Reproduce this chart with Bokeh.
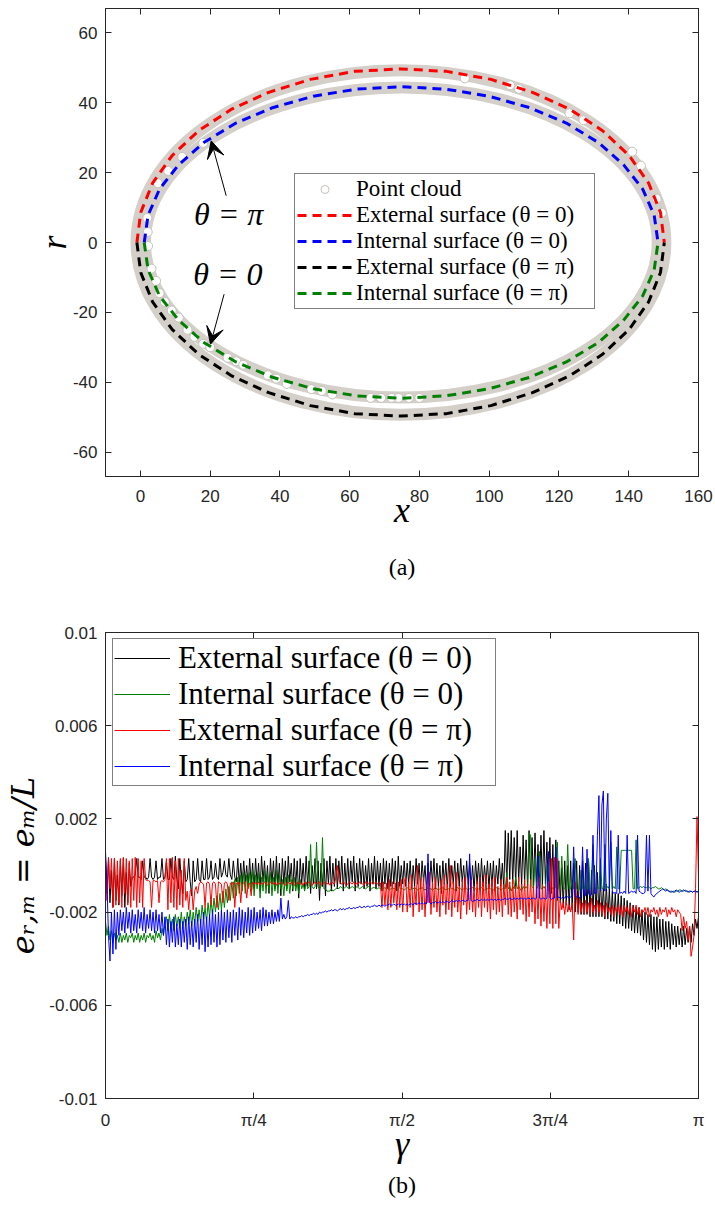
import numpy as np
from bokeh.plotting import figure
from bokeh.layouts import column
from bokeh.models import (Range1d, LinearAxis, FixedTicker, Legend, LegendItem,
                          Label, Arrow, VeeHead)
from bokeh.embed import file_html
from bokeh.resources import INLINE

# ================= Panel (a) data =================
# fitted surfaces (upper half: theta = 0, lower half: theta = pi)
ext0_x = [-1.0, 0.1, 3.5, 9.1, 16.7, 26.0, 36.8, 48.7, 61.4, 74.6, 87.8, 100.5,
          112.4, 123.2, 132.5, 140.1, 145.7, 149.1, 150.2]
ext0_y = [0.0, 8.6, 17.0, 24.9, 32.0, 38.1, 43.0, 46.7, 49.0, 49.7, 49.0, 46.7,
          43.0, 38.1, 32.0, 24.9, 17.0, 8.6, 0.0]
int0_x = [1.1, 2.2, 5.5, 11.0, 18.3, 27.4, 37.9, 49.6, 61.9, 74.8, 87.6, 99.9,
          111.6, 122.1, 131.2, 138.5, 144.0, 147.3, 148.4]
int0_y = [0.0, 7.8, 15.3, 22.3, 28.7, 34.2, 38.6, 41.9, 43.9, 44.6, 43.9, 41.9,
          38.6, 34.2, 28.7, 22.3, 15.3, 7.8, 0.0]
extpi_x = [-1.0, 0.1, 3.5, 9.1, 16.7, 26.0, 36.8, 48.7, 61.4, 74.6, 87.8, 100.5,
           112.4, 123.2, 132.5, 140.1, 145.7, 149.1, 150.2]
extpi_y = [0.0, -8.6, -17.0, -24.9, -32.0, -38.1, -43.0, -46.7, -49.0, -49.7, -49.0,
           -46.7, -43.0, -38.1, -32.0, -24.9, -17.0, -8.6, 0.0]
intpi_x = [1.1, 2.2, 5.5, 11.0, 18.3, 27.4, 37.9, 49.6, 61.9, 74.8, 87.6, 99.9,
           111.6, 122.1, 131.2, 138.5, 144.0, 147.3, 148.4]
intpi_y = [0.0, -7.8, -15.3, -22.3, -28.7, -34.2, -38.6, -41.9, -43.9, -44.6, -43.9,
           -41.9, -38.6, -34.2, -28.7, -22.3, -15.3, -7.8, 0.0]

# point cloud: dense bands (centre ellipses) + individually visible points
cloud_cx = [74.7, 74.8]
cloud_cy = [0.0, 0.0]
cloud_w = [151.6, 147.0]
cloud_h = [98.6, 88.8]
cloud_x = [2.0, 2.1, 2.2, 3.2, 4.5, 5.5, 7.0, 9.0, 11.0, 13.5, 15.5, 18.0, 20.0, 25.0,
           27.5, 29.5, 36.5, 39.0, 42.0, 49.0, 52.0, 55.0, 66.0, 69.0, 72.0, 74.0, 77.0,
           80.0, 93.0, 106.0, 108.5, 123.0, 127.0, 141.0, 143.5, 148.0, 149.5, 5.0, 8.0,
           12.0, 18.0]
cloud_y = [7.0, 3.0, -1.0, -7.5, -11.0, -14.5, -17.0, -19.5, -21.5, -25.0, -27.0, -29.0,
           -30.0, -33.0, -34.0, -35.0, -38.0, -39.0, -40.5, -42.0, -42.5, -43.5, -44.5,
           -44.5, -44.5, -44.5, -44.5, -44.5, 47.0, 45.0, 44.0, 37.0, 35.0, 26.0, 22.0,
           12.5, 8.5, 17.0, 20.5, 24.5, 28.5]

x_ticks_a = [0, 20, 40, 60, 80, 100, 120, 140, 160]
x_tick_labels_a = ["0", "20", "40", "60", "80", "100", "120", "140", "160"]
y_ticks_a = [-60, -40, -20, 0, 20, 40, 60]
y_tick_labels_a = ["-60", "-40", "-20", "0", "20", "40", "60"]

# ================= Panel (b) data (values in units of 1e-3, gamma from 0 to pi) =====
gamma_ticks = [0, np.pi / 4, np.pi / 2, 3 * np.pi / 4, np.pi]
gamma_tick_labels = ["0", "π/4", "π/2", "3π/4", "π"]
e_ticks = [-0.01, -0.006, -0.002, 0.002, 0.006, 0.01]
e_tick_labels = ["-0.01", "-0.006", "-0.002", "0.002", "0.006", "0.01"]

ext0_err_e3 = [
    0.2, -1.2, 0.3, -1.6, -0.2, -1.8, 0.3, -1.5, -0.4, -1.7, 0.2, -1.3, 0.3, -1.8, -0.3, -1.6, 0.1, -0.9,
    -0.5, -0.5, -0.4, 0.3, -0.5, -0.5, -0.6, 0.2, -0.5, -0.5,
    -0.6, -0.5, 0.3, -0.5, -0.6, -0.5, 0.2, -0.6, -0.5, -0.5,
    0.3, -0.6, -0.5, 0.2, -0.6, -0.6, 0.3, -0.5, -0.6, 0.4,
    -0.6, -1.0, 0.3, -0.6, -1.2, 0.2, -0.7, -0.6, 0.3, -0.7,
    -1.3, 0.2, -0.7, -0.6, 0.3, -0.6, -0.7, 0.2, -0.6, -0.6,
    0.3, -0.6, -0.5, 0.2, -0.6, -0.5, 0.1, -0.5, -0.6, 0.3,
    -0.5, -0.3, 0.2, -0.4, -0.5, 0.3, -0.4, -0.6, 0.2, -0.5,
    -0.7, 0.3, -0.8,
    0.1, -0.8, 0.2, -0.7, 0.0, -0.9, 0.3, -0.8, 0.1, -1.0,
    0.3, -0.8, 0.1, -1.1, 0.4, -0.7, 0.2, -0.9, 0.0, -1.2,
    0.3, -0.8, 0.2, -1.0, 0.4, -0.9, 0.1, -1.3, 0.3, -0.8,
    0.2, -1.0, 0.4, -0.7, 0.1, -1.1, 0.3, -0.9, 0.2, -1.4,
    0.3, -0.8, 0.1, -1.0, 0.4, -0.9, 0.2, -1.2, 0.0, -0.8,
    0.3, -1.0, 0.2, -1.5, 0.1, -0.9, 0.3, -1.3, 0.2, -0.8,
    0.4, -1.1, 0.1, -0.9, 0.3, -1.0, 0.2, -0.8, 0.4, -1.1,
    0.1, -0.9, 0.3, -1.0, 0.2, -0.7, 0.4, -1.1, 0.1, -0.9,
    0.3, -0.8, 0.2, -1.0, 0.0, -0.9, 0.3, -1.1, 0.1, -0.8,
    0.4, -1.0, 0.2, -0.9, 0.1, -1.1, 0.3, -0.8, 0.2, -1.0,
    0.1, -0.9, 0.3, -0.8, 0.2, -1.1, 0.4, -0.9, 0.0, -0.8, 0.2,
    -0.9, 0.1, -0.8, 0.2, -1.0, 0.0, -0.9, 0.3, -0.8, 0.1,
    -1.0, 0.2, -0.7, 0.0, -1.1, 0.1, -0.9, 0.2, -0.8, 0.3,
    -1.0, 0.1, -0.9, 0.0, -1.2, 0.2, -0.8, 0.1, -1.0, 0.3,
    -0.9, 0.0, -0.8, 0.2, -1.1, 0.1, -0.9, 0.3, -0.7, 0.0,
    -1.0, 0.2, -0.8, 0.1, -0.9, 0.0, -1.1, 0.2, -0.8, 0.1,
    -1.0, 0.3, -0.9, 0.0, -0.8, 0.2, -1.0, 0.1, -0.9, 0.2,
    -1.1, 0.0, -0.8, 0.3, -0.9, 0.1, -1.0,
    1.5, -0.9, 1.4, -0.6, 1.5, -0.8, 1.2, -0.9, 1.5, -0.7,
    0.8, -0.9, 1.3, -0.8, 1.1, -1.0, 1.5, -0.7, 1.2, -0.9,
    1.4, -0.8, 0.9, -1.0, 1.3, -0.9, 1.5, -0.8, 1.0, -1.1,
    1.2, -1.2, 0.9, -1.4, 1.1,
    -1.5, 0.2, -1.6, -0.1, -1.8, 0.2, -1.7, 0.0, -1.9, 0.2,
    -1.9, 0.1, -2.0, 0.2, -2.0, 0.0, -2.1, 0.2, -2.1, 0.1,
    -2.1, 0.2, -2.2, -0.2, -2.2, 0.0, -2.2, -0.3, -2.2, -0.5,
    -2.2, -0.9, -2.3, -0.8, -2.3, -1.0, -2.4, -1.1, -2.4, -1.2,
    -2.5, -1.2, -2.5, -1.3, -2.6, -1.4, -2.7, -1.5, -2.7, -1.6,
    -2.8, -1.7, -2.9, -1.8, -2.9, -1.8, -3.0, -1.9, -3.2, -2.0,
    -3.3, -2.1, -3.4, -2.1, -3.6, -2.2, -3.7, -2.2, -3.6, -2.3,
    -3.5, -2.3, -3.6, -2.4, -3.5, -2.4, -3.6, -2.5, -3.4, -2.6,
    -3.5, -2.6, -3.4, -2.7, -3.5, -2.6, -3.4, -2.7, -3.3, -2.6,
    -3.3, -2.5, -3.0, -2.3, -2.7, -2.2,
]
int0_err_e3 = [
    -2.4, -3.0, -2.6, -3.2, -2.8, -3.3, -2.9, -3.2, -3.0, -3.3,
    -2.9, -3.3, -3.0, -3.2, -2.9, -3.3, -3.0, -3.1, -2.9, -3.3,
    -3.0, -3.2, -2.9, -3.3, -3.0, -3.2, -2.9, -3.3, -3.0, -3.1,
    -2.9, -3.2, -3.0, -3.3, -2.8, -3.1, -2.9, -3.2, -2.7, -3.0,
    -2.5,
    -2.2, -2.8, -2.1, -2.7, -2.3, -2.8, -2.1, -2.6, -2.2, -2.7,
    -2.0, -2.7, -2.2, -2.6, -2.0, -2.5, -1.9, -2.6, -2.0, -2.5,
    -1.8, -2.4, -1.9, -2.5, -1.7, -2.3, -1.8, -2.4, -1.6, -2.2,
    -1.5, -2.1, -1.4, -2.0, -1.3, -1.9, -1.2,
    -1.9, -1.1, -1.8, -1.0, -1.6, -0.9, -1.5, -0.7, -1.4, -0.6,
    -1.3, -0.5, -1.2, -0.4, -1.1, -0.3, -1.2, -0.4, -1.0, -0.3,
    -1.1, -0.2, -1.3, -0.4, -1.0, -0.3, -1.4, -0.5, -1.1, -0.2,
    -1.2, -0.4, -1.0, -0.3, -1.3, -0.5, -1.1, -0.2, -1.2, -0.4,
    -1.0, -0.6, -1.3, -0.5, -1.1, -0.4, -1.2, -0.6, -1.0, -0.5,
    -1.1, -0.7, -1.2, -0.6, -1.0, -0.8, -1.1, -0.7, -1.0, -0.9,
    0.9, -0.9, -1.0, -0.9, 1.0, -0.9, -1.0, -0.9, 1.2, -1.0, -1.0, -1.1, -1.1,
    -1.1, -1.0, -1.1, -1.05, -1.0, -0.95, -1.0, -0.9, -0.95, -1.0,
    -0.95, -0.9, -0.95, -1.0, -0.95, -0.9, -0.95, -1.0, -0.9, -0.95,
    -1.0, -0.95, -0.9, -0.95, -1.0, -0.95, -0.9, -0.95, -1.0, -0.95,
    -0.95, -1.0, -1.0, -0.95, -1.0, -1.05, -1.0, -0.95, -1.0, -1.0,
    -1.05, -1.0, -0.95, -1.0, -1.0, -1.05, -1.0, -0.95, -1.0, -1.0,
    -1.05, -1.0, -0.95, -1.0, -1.05, -1.0, -1.0, -0.95, -1.0, -1.05,
    -1.0, -1.0, -0.95, -1.0, -1.05, -1.0, -0.95, -1.0, -1.0, -1.05,
    -1.0, -0.95, -1.0, -1.05, -1.0, -1.0, -0.95, -1.0, -1.05, -1.0,
    -1.0, -0.95, -1.0, -1.0, -1.05, -1.0, -0.95, -1.0, -1.0, -1.05,
    -1.0, -0.95, -1.0, -1.05, -1.0, -1.0, -0.95, -1.0, -1.0, -1.05,
    -1.0, -1.0, -0.95, -1.0, -1.05, -1.0, -1.0, -0.95, -1.0, -1.0,
    -1.05, -1.0, -0.95, -1.0, -1.0, -1.05, -1.0, -1.0,
    -1.0, -0.3, -1.0, -0.9, -1.1, -0.9, -1.0, -0.5, -1.0, -0.9,
    -1.0, -1.1, -0.9, -1.0, -0.9, -1.0, 1.4, 1.3, -0.9, -1.0,
    0.3, -1.0, -0.9, 0.6, -1.0, -1.0, -0.9, -1.0, 0.0, -1.0,
    -1.0, -0.9, -1.0, -1.0, -0.9,
    1.0, -1.0, -1.0, 0.4, -0.9, -1.0, -1.0, 0.9, -1.0, -1.0,
    -0.6, -1.0, 0.3, -1.0, -1.1, -1.0, -0.2, -1.0, -1.0, -0.9,
    -1.0, 0.3, -1.0, -1.0, 0.9, -1.0, -1.0, -0.9, -1.0, 0.3,
    -1.0, -1.0, 0.9, -1.0, -0.9, -1.0, 1.0, -1.0, -0.9, -1.0,
    0.8, -1.0, -1.0, 0.65, 0.65, 0.65, 0.65, 0.65, 0.65, 0.65,
    0.65, -1.0, -1.0, 1.1, -1.0, -0.95, -0.9,
    -0.95, -0.9, -0.95, -0.95, -0.9, -0.95, -1.0, -0.95, -0.95, -0.9,
    -0.95, -1.0, -1.0, -0.95, -1.0, -1.05, -1.0, -1.05, -1.1, -1.1,
    -1.15, -1.1, -1.15, -1.1, -1.1, -1.05, -1.05, -1.1, -1.1, -1.05,
    -1.1, -1.1, -1.15, -1.1, -1.15, -1.1, -1.15, -1.1, -1.15,
]
extpi_err_e3 = [
    0.3, -1.5, 0.35, -1.0, 0.3, -1.8, 0.3, -1.7, 0.2, -1.6,
    0.3, -1.8, 0.35, -1.2, 0.3, -1.7, 0.2, -1.8, 0.3, -1.5,
    0.35, -1.8, 0.3, -1.6, 0.2, -1.8, 0.3, -0.6,
    -0.65, -0.65, -0.7, -1.8, -0.65, -0.65, -0.7, -0.65, -1.6, -0.7, -0.65, -0.7, -0.6,
    0.3, -1.9, 0.3, -1.6, 0.35, -1.8, 0.2, -1.9, 0.3, -1.7, -0.2, -1.8, 0.3, -1.5,
    -1.1, -1.9, -1.1, -1.0, -1.9, -1.1, -0.9, -1.2, -0.8, -0.7,
    -0.75, -0.8, -1.8, -0.75, -0.7, -0.8, -1.7, -0.75, -0.7, -0.8,
    -1.8, -0.7, -0.75, -0.8, -1.6, -0.75, -0.7, -0.8, -1.5, -0.75,
    -0.8, -0.7, -1.8, -0.75, -0.8, -0.7, -1.6, -0.8, -0.75, -0.7,
    -1.4, -0.8, -0.75, -1.3, -0.7, -0.8,
    -0.75, -0.8, -0.7, -0.85, -0.75, -0.8, -0.7, -0.75, -0.85, -0.8,
    -0.7, -0.75, -0.8, -0.7, -0.85, -0.75, -0.8, -0.7, -0.75, -0.8,
    -0.85, -0.75, -0.7, -0.8, -0.75, -0.7, -0.85, -0.8, -0.75, -0.7,
    -0.8, -0.75, -0.85, -0.7, -0.8, -0.75, -0.7, -0.8, -0.85, -0.75,
    -0.7, -0.8, -0.75, -0.7, -0.85, -0.8, -0.75, -0.7, -0.8, -0.75,
    -0.85, -0.7, -0.75, -0.8, -0.5, 0.0, -0.6, -0.75, -0.8, -0.7,
    -0.75, -0.85, -0.8, -0.7, -0.75, -0.8, -0.7, -0.85, -0.75, -0.8,
    -0.7, -0.75, -0.8, -0.85, -0.7, -0.75, -0.8, -0.7, -0.75, -0.8,
    -0.75, -0.7, -0.8, -0.75,
    -0.75, -1.8, -0.7, -1.7, -0.75, -1.9, -0.6, -1.8, -0.7, -1.6, -0.75, -1.9, -0.7, -1.8, -0.6, -2.0, -0.7,
    -0.5, -2.0, -0.7, -1.8, -0.4, -2.2, -0.9, -1.7, 0.0, -2.0,
    -0.6, -1.9, -0.5, -2.2, -0.8, -1.6, -0.3, -2.1, -0.7, -1.8,
    -0.5, -2.0, -0.9, -2.2, -0.6, -1.7, -0.4, -2.1, -0.8, -1.9,
    0.0, -2.2, -0.7, -1.8, -0.3, -2.0, -0.9, -2.3, -0.6, -1.7,
    -0.5, -2.1, -0.8, -1.9, -0.6, -2.0, -0.9, -2.2, -0.7, -1.8,
    -0.5, -2.2, -0.7, -1.8, -0.4, -2.0, -0.8, -2.3, -0.6, -1.9,
    -0.5, -2.1, -0.9, -2.0, -0.6, -2.2, -0.8, -1.7, -0.5, -2.1,
    -0.7, -2.2, -0.6, -2.0, -0.9, -2.3, -0.5, -1.9, -0.8, -2.1,
    -0.6, -2.4, -0.8, -2.2, -0.6, -2.0, -0.9, -2.5, -0.7, -2.3,
    -0.5, -2.6, -0.8, -2.4, -0.9, -2.7, -0.7, -2.5, 0.3, -2.7,
    0.35,
    -2.5, 0.3, -2.7, -1.5, -1.9, -1.6, -2.1, -1.5, -2.0, -1.7,
    -2.0, -1.6, -3.2, -0.7, -1.5, -2.1, -1.4, -2.0, -1.6, -2.1,
    -1.5, -2.0, -1.6, -2.1, -1.4, -2.0, -1.7, -2.1, -1.5, -2.0,
    -1.6,
    -2.1, -1.7, -2.2, -1.6, -2.0, -1.8, -2.1, -1.7, -2.2, -1.8,
    -2.0, -1.7, -2.1, -1.8, -2.2, -1.7, -2.0, -1.8, -2.1, -1.7,
    -2.2, -1.8, -2.0, -1.7, -2.1, -1.8, -2.2, -1.9, -2.0, -1.8,
    -2.1, -1.8, -2.2, -1.9, -2.0, -1.8, -2.1, -1.9, -2.2, -1.8,
    -2.1, -1.9, -2.0, -1.8, -2.2, -1.9, -2.1, -1.8, -2.0, -1.9,
    -2.2, -1.9, -2.0,
    -2.1, -2.8, -2.2, -2.7, -2.4, -3.2, -2.6, -3.9, -3.5, -3.0, -1.0, 2.1, -0.5,
]
intpi_err_e3 = [
    0.6, -0.8, -3.0, -4.1, -2.0, -3.8, -1.9, -3.6, -2.0, -3.0, -1.9,
    -2.8, -2.0, -2.9, -1.8, -2.7, -2.0, -2.9, -1.9, -2.8, -2.1,
    -2.9, -1.9, -2.7, -2.0, -2.8, -1.8, -2.9, -2.1, -2.7, -1.9,
    -2.8, -2.0, -2.9, -1.9, -2.8, -2.1, -2.9, -2.0, -3.0, -2.2,
    -3.4, -2.3, -3.5, -2.4, -3.3, -2.2, -3.5, -2.5, -3.4, -2.3,
    -3.5, -2.4, -3.3, -2.3, -3.6, -2.2, -3.4, -2.4, -3.5, -2.3,
    -3.3, -2.1, -3.6, -2.3, -3.4, -2.0, -3.7, -2.2, -3.5, -2.1,
    -3.4, -1.9, -3.3, -2.1, -3.5, -2.0, -3.4,
    -1.9, -3.2, -2.0, -3.3, -1.9, -3.1, -2.0, -3.3, -1.9, -3.0,
    -2.0, -3.2, -1.8, -3.0, -1.9, -3.1, -2.0, -2.9, -1.8, -3.0,
    -1.9, -2.9, -1.8, -2.8, -2.0, -2.7, -1.9, -2.8, -1.8, -2.6,
    -1.9, -2.6, -2.0, -2.5, -1.9, -2.5, -2.0, -2.4, -1.9, -2.4,
    -1.4,
    -2.3, -2.1, -2.3, -2.2, -1.5, -2.3, -2.2, -2.25,
    -2.25, -2.2, -2.25, -2.2, -2.2, -2.15, -2.2, -2.15, -2.15, -2.1,
    -2.15, -2.1, -2.1, -2.05, -2.1, -2.05, -2.1, -2.0, -2.05, -2.0,
    -2.0, -1.95, -2.0, -1.95, -1.95, -1.9, -1.95, -1.9, -1.9, -1.95,
    -1.9, -1.85, -1.9, -1.85, -1.9, -1.85, -1.85, -1.8, -1.85, -1.85,
    -1.8, -1.85, -1.8, -1.8, -1.75, -1.8, -1.8, -1.75, -1.8, -1.75,
    -1.75, -1.8, -1.75, -1.75, -1.7, -1.75, -1.75, -1.7, -1.75, -1.7,
    -1.7, -1.75, -1.7, -1.7, -1.65, -1.7, -1.7, -1.65, -1.7, -1.7,
    -1.65, -1.7, -1.65, -1.7, -1.65,
    -1.7, -1.65, -1.7, -1.65, -1.65, -1.7, -1.6, -1.65, -1.65, -1.6,
    -1.65, -1.6, -1.65, -1.6, -1.65, 0.5, -1.6, -1.65, -1.6, -1.6,
    -1.55, -1.6, -1.6, -1.55, -1.6, -1.55, -1.6, -1.55, -1.55, -1.6,
    -1.55, -1.5, -1.55, -1.55, -1.5, -1.55, -1.5, -1.55, -1.5, -1.5,
    -1.55, -1.5, -1.5, 0.5, -1.5, -1.55, -1.5, -1.5, -1.45, -1.5,
    -1.5, -1.45, -1.5, -1.45, -1.5, -1.45, -1.5, -1.45, -1.45, -1.5,
    -1.45, -1.5, -1.45, -1.45, -1.5, -1.45, -1.45, -1.4, -1.45, -1.45,
    -1.4, -1.45, -1.45, -1.4, -1.45, -1.4, -1.45, -1.4, -1.4, -1.45,
    -1.4, -1.45, -1.4, -1.4, -1.45, -1.4, -1.4, -1.45, -1.4, 0.4,
    -1.4, -1.45, -1.4, -1.4, -1.45, -1.4, 0.6, -1.4, -1.45, -1.4,
    -1.4,
    0.8, -1.4, -1.35, -1.4, -1.4, -1.35, -1.4, -1.3, -1.35, -1.4,
    -1.35, -1.3, 0.8, -1.3, -1.35, -1.3, -1.4, -1.3, 0.8, -1.25,
    -1.3, 0.7, -1.2, -1.3, -1.25, 1.3, -1.2, -1.2, 1.3, 3.0,
    -1.1, 2.6, 3.2, -1.1, 2.0, 3.1, -1.0, 1.5, -1.1, -1.2,
    -1.15, -1.2, 1.3, -1.2, -1.15, -1.2, -1.1, -1.2, 1.3, -1.2,
    -1.15, -1.1, -1.15, -1.1, -1.2, 1.3, -1.1, -1.15,
    -1.2, -1.2, -1.15, 1.3, -1.1, 1.3, -1.2, -1.3, -1.35, -1.25,
    -1.2, -1.15, -1.1, -1.05, -1.0, -1.05, -1.1, -1.05, -1.1, -1.15,
    -1.1, -1.15, -1.1, -1.05, -1.1, -1.15, -1.1, -1.1, -1.05, -1.1,
    -1.1, -1.15, -1.1, -1.1, -1.15, -1.1, -1.1, -1.15, -1.1,
]

# ================= styling helpers =================
AX = "#262626"
CLOUD = "#d4d0c9"


def style_axis(ax, ticks, show, standoff=8, labels=None):
    ax.ticker = FixedTicker(ticks=ticks)
    ax.major_tick_in = 6
    ax.major_tick_out = 0
    ax.minor_tick_in = 0
    ax.minor_tick_out = 0
    ax.minor_tick_line_color = None
    ax.axis_line_color = AX
    ax.axis_line_width = 1
    ax.major_tick_line_color = AX
    ax.major_tick_line_width = 1
    if show:
        ax.major_label_text_font = "Liberation Sans"
        ax.major_label_text_font_size = "17px"
        ax.major_label_text_color = AX
        ax.major_label_standoff = standoff
        if labels is not None:
            ax.major_label_overrides = {t: l for t, l in zip(ticks, labels)}
    else:
        ax.major_label_text_font_size = "1px"
        ax.major_label_text_color = None
        ax.major_label_standoff = 0


def tag_axis(text, standoff, font="Liberation Serif", size="24px"):
    """An axis that only carries a caption text (no line, ticks or tick labels)."""
    ax = LinearAxis(ticker=FixedTicker(ticks=[]))
    ax.axis_line_color = None
    ax.major_tick_line_color = None
    ax.minor_tick_line_color = None
    ax.major_label_text_color = None
    ax.major_label_text_font_size = "1px"
    ax.major_label_standoff = 0
    ax.axis_label = text
    ax.axis_label_text_font = font
    ax.axis_label_text_font_size = size
    ax.axis_label_text_font_style = "normal"
    ax.axis_label_text_color = "black"
    ax.axis_label_standoff = standoff
    return ax


def title_axis(ax, text, standoff, font="Liberation Serif", size="36px"):
    ax.axis_label = text
    ax.axis_label_text_font = font
    ax.axis_label_text_font_size = size
    ax.axis_label_text_font_style = "italic"
    ax.axis_label_text_color = "black"
    ax.axis_label_standoff = standoff


# ================= Panel (a) =================
p1 = figure(width=715, height=600, x_range=Range1d(-10, 160), y_range=Range1d(-67, 67),
            output_backend="svg", toolbar_location=None,
            min_border_left=105, min_border_right=17, min_border_top=8, min_border_bottom=124)
p1.grid.visible = False
p1.outline_line_color = AX
style_axis(p1.below[0], x_ticks_a, True, standoff=13, labels=x_tick_labels_a)
style_axis(p1.left[0], y_ticks_a, True, standoff=8, labels=y_tick_labels_a)
title_axis(p1.below[0], "x", -15)
title_axis(p1.left[0], "r", -4)
ax_r1 = LinearAxis()
style_axis(ax_r1, y_ticks_a, False)
p1.add_layout(ax_r1, "right")
ax_t1 = LinearAxis()
style_axis(ax_t1, x_ticks_a, False)
p1.add_layout(ax_t1, "above")
p1.add_layout(tag_axis("(a)", 21), "below")

p1.ellipse(x=cloud_cx, y=cloud_cy, width=cloud_w, height=cloud_h,
           fill_color=None, line_color=CLOUD, line_width=12)
r_cloud = p1.scatter(cloud_x, cloud_y, marker="circle", size=9, fill_color="white",
                     line_color="#c6c2bb", line_width=1)
r_e0 = p1.line(ext0_x, ext0_y, line_color="#ff0000", line_width=3, line_dash="9 6")
r_i0 = p1.line(int0_x, int0_y, line_color="#0000ff", line_width=3, line_dash="9 6")
r_ep = p1.line(extpi_x, extpi_y, line_color="#000000", line_width=3, line_dash="9 6")
r_ip = p1.line(intpi_x, intpi_y, line_color="#008000", line_width=3, line_dash="9 6")

legend1 = Legend(items=[
    LegendItem(label="Point cloud", renderers=[r_cloud]),
    LegendItem(label="External surface (θ = 0)", renderers=[r_e0]),
    LegendItem(label="Internal surface (θ = 0)", renderers=[r_i0]),
    LegendItem(label="External surface (θ = π)", renderers=[r_ep]),
    LegendItem(label="Internal surface (θ = π)", renderers=[r_ip]),
], location=(189, 167), orientation="vertical",
    label_text_font="Liberation Serif", label_text_font_size="23px", label_text_color="black",
    glyph_width=55, glyph_height=20, label_height=20, label_width=236, label_standoff=4,
    spacing=0, padding=2, margin=0,
    border_line_color="black", border_line_width=1,
    background_fill_color="white", background_fill_alpha=1.0)
p1.add_layout(legend1)

p1.add_layout(Arrow(end=VeeHead(size=17, fill_color="black", line_color="black"),
                    x_start=24.6, y_start=13.4, x_end=20.3, y_end=29.1,
                    line_color="black", line_width=1))
p1.add_layout(Arrow(end=VeeHead(size=17, fill_color="black", line_color="black"),
                    x_start=24.0, y_start=-14.8, x_end=20.1, y_end=-29.1,
                    line_color="black", line_width=1))
p1.add_layout(Label(x=25.3, y=8.2, text="θ = π", text_font="Liberation Serif",
                    text_font_style="italic", text_font_size="32px",
                    text_align="center", text_baseline="middle", text_color="black"))
p1.add_layout(Label(x=25.1, y=-9.0, text="θ = 0", text_font="Liberation Serif",
                    text_font_style="italic", text_font_size="32px",
                    text_align="center", text_baseline="middle", text_color="black"))

# ================= Panel (b) =================
p2 = figure(width=715, height=609, x_range=Range1d(0, np.pi), y_range=Range1d(-0.01, 0.01),
            output_backend="svg", toolbar_location=None,
            min_border_left=105, min_border_right=17, min_border_top=32, min_border_bottom=111)
p2.grid.visible = False
p2.outline_line_color = AX
style_axis(p2.below[0], gamma_ticks, True, standoff=12, labels=gamma_tick_labels)
style_axis(p2.left[0], e_ticks, True, standoff=8, labels=e_tick_labels)
title_axis(p2.below[0], "γ", -9)
title_axis(p2.left[0], "eᵣ,ₘ = eₘ/L", 4, font="DejaVu Serif", size="32px")
ax_r2 = LinearAxis()
style_axis(ax_r2, e_ticks, False)
p2.add_layout(ax_r2, "right")
ax_t2 = LinearAxis()
style_axis(ax_t2, gamma_ticks, False)
p2.add_layout(ax_t2, "above")
p2.add_layout(tag_axis("(b)", 5), "below")

series = [(ext0_err_e3, "#000000"), (int0_err_e3, "#008000"),
          (extpi_err_e3, "#ff0000"), (intpi_err_e3, "#0000ff")]
renderers_b = []
for vals, col in series:
    g = np.linspace(0, np.pi, len(vals))
    renderers_b.append(p2.line(g, np.array(vals) * 1e-3, line_color=col, line_width=1))

legend2 = Legend(items=[
    LegendItem(label="External surface (θ = 0)", renderers=[renderers_b[0]]),
    LegendItem(label="Internal surface (θ = 0)", renderers=[renderers_b[1]]),
    LegendItem(label="External surface (θ = π)", renderers=[renderers_b[2]]),
    LegendItem(label="Internal surface (θ = π)", renderers=[renderers_b[3]]),
], location=(7, 312), orientation="vertical",
    label_text_font="Liberation Serif", label_text_font_size="31px", label_text_color="black",
    glyph_width=56, glyph_height=28, label_height=28, label_width=316, label_standoff=8,
    spacing=0, padding=1, margin=0,
    border_line_color="black", border_line_width=1,
    background_fill_color="white", background_fill_alpha=1.0)
p2.add_layout(legend2)

layout = column(p1, p2)
open("out.html", "w").write(file_html(layout, INLINE))
